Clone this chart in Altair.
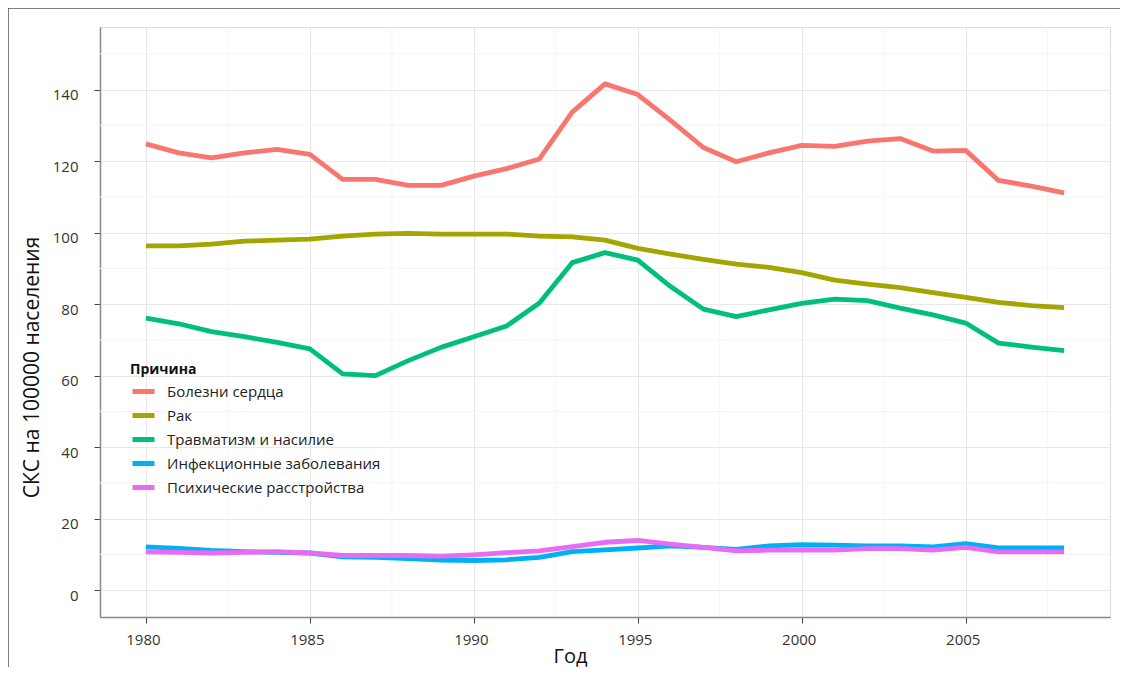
import altair as alt
import pandas as pd

years = list(range(1980, 2009))
causes = ["Болезни сердца", "Рак", "Травматизм и насилие",
          "Инфекционные заболевания", "Психические расстройства"]
colors = ["#F8766D", "#A3A500", "#00BF7D", "#00B0F6", "#E76BF3"]

heart = [124.8, 122.3, 120.9, 122.3, 123.3, 121.9, 114.9, 114.9, 113.2, 113.2,
         115.8, 117.9, 120.6, 133.7, 141.6, 138.6, 131.4, 123.8, 119.8, 122.3,
         124.4, 124.1, 125.6, 126.3, 122.8, 123.0, 114.6, 113.0, 111.1]
cancer = [96.3, 96.3, 96.8, 97.6, 97.9, 98.2, 99.0, 99.6, 99.8, 99.6,
          99.6, 99.6, 99.0, 98.8, 97.9, 95.6, 94.0, 92.5, 91.2, 90.3,
          88.8, 86.7, 85.6, 84.6, 83.2, 81.9, 80.5, 79.6, 79.0]
injury = [76.1, 74.5, 72.3, 70.9, 69.3, 67.5, 60.5, 60.0, 64.2, 67.9,
          70.9, 73.9, 80.3, 91.6, 94.4, 92.3, 84.9, 78.6, 76.5, 78.4,
          80.2, 81.4, 81.0, 78.9, 77.0, 74.7, 69.1, 68.0, 67.0]
infect = [12.1, 11.7, 11.1, 10.8, 10.6, 10.4, 9.3, 9.2, 8.8, 8.4,
          8.3, 8.5, 9.2, 10.8, 11.3, 11.8, 12.4, 12.0, 11.4, 12.4,
          12.7, 12.6, 12.4, 12.4, 12.1, 13.0, 11.8, 11.8, 11.8]
mental = [10.7, 10.6, 10.4, 10.6, 10.8, 10.4, 9.7, 9.7, 9.7, 9.5,
          9.9, 10.5, 11.0, 12.2, 13.4, 13.9, 12.9, 12.0, 11.0, 11.2,
          11.2, 11.2, 11.6, 11.6, 11.2, 12.0, 10.7, 10.7, 10.7]

x_major = [1980, 1985, 1990, 1995, 2000, 2005]
x_minor = [1982.5, 1987.5, 1992.5, 1997.5, 2002.5, 2007.5]
y_major = [0, 20, 40, 60, 80, 100, 120, 140]
y_minor = [10, 30, 50, 70, 90, 110, 130, 150]

series = [heart, cancer, injury, infect, mental]
rows = []
for i, (cause, vals) in enumerate(zip(causes, series)):
    for yr, v in zip(years, vals):
        rows.append({"Год": yr, "value": v, "Причина": cause, "ord": i})
df = pd.DataFrame(rows)

W, H = 1010, 590
xscale = alt.Scale(domain=[1978.6, 2009.4], nice=False, zero=False)
yscale = alt.Scale(domain=[-7.5, 157.5], nice=False, zero=False)
FONT = "Open Sans"

x_axis = alt.Axis(values=x_major, format="d", title="Год",
                  titleX=470, titleY=49, titleAnchor="start",
                  titleAlign="center", titleBaseline="bottom",
                  titleFontSize=20, titleFontWeight="normal",
                  titleColor="#111", labelFontSize=15, labelOffset=-3,
                  labelColor="#333", labelPadding=9, tickSize=6,
                  tickColor="#444", domainColor="#888",
                  domainWidth=1.5, gridColor="#E8E8E8",
                  gridWidth=1.2, labelFont=FONT, titleFont=FONT)
y_axis = alt.Axis(values=y_major, title="СКС на 100000 населения",
                  titleX=-68, titleY=340, titleAngle=-90,
                  titleAlign="center", titleBaseline="middle",
                  titleFontSize=21, titleFontWeight="normal",
                  titleColor="#111", labelFontSize=15, labelOffset=5,
                  labelColor="#333", labelPadding=16, tickSize=6,
                  tickColor="#444", domainColor="#888",
                  domainWidth=1.5, gridColor="#E8E8E8",
                  gridWidth=1.2, labelFont=FONT, titleFont=FONT)

xminor = alt.Chart(pd.DataFrame({"Год": x_minor})).mark_rule(
    color="#F4F4F4", strokeWidth=1).encode(
    x=alt.X("Год:Q", scale=xscale, axis=x_axis))
yminor = alt.Chart(pd.DataFrame({"value": y_minor})).mark_rule(
    color="#F4F4F4", strokeWidth=1).encode(
    y=alt.Y("value:Q", scale=yscale, axis=y_axis))

lines = alt.Chart(df).mark_line(strokeWidth=4.8, strokeCap="butt",
                                strokeJoin="round").encode(
    x=alt.X("Год:Q", scale=xscale, axis=x_axis),
    y=alt.Y("value:Q", scale=yscale, axis=y_axis),
    color=alt.Color("Причина:N",
                    scale=alt.Scale(domain=causes, range=colors),
                    legend=alt.Legend(orient="none", legendX=30, legendY=336,
                                      title="Причина", titleFontSize=14,
                                      titleFontWeight="bold", titleFont=FONT,
                                      titleColor="#111", labelFont=FONT,
                                      labelFontSize=15, labelColor="#222",
                                      labelLimit=400,
                                      symbolType="stroke",
                                      symbolStrokeWidth=5, symbolSize=484,
                                      labelOffset=10, rowPadding=0,
                                      titlePadding=1)),
    order=alt.Order("ord:Q"),
    detail="Причина:N",
)

frame_top = alt.Chart(pd.DataFrame({"a": [0]})).mark_rule(
    color="#555", strokeWidth=1.5).encode(
    x=alt.value(-92), x2=alt.value(1030), y=alt.value(-19))
frame_left = alt.Chart(pd.DataFrame({"a": [0]})).mark_rule(
    color="#555", strokeWidth=1.5).encode(
    x=alt.value(-92), y=alt.value(-19), y2=alt.value(660))

chart = alt.layer(xminor, yminor, lines, frame_top, frame_left).properties(
    width=W, height=H,
    autosize=alt.AutoSizeParams(type="none"),
    padding={"left": 92, "top": 19, "right": 10, "bottom": 50},
).configure_view(stroke="#999", strokeWidth=1.5).configure(background="white")

chart.save("out.html", embed_options={"renderer": "svg", "actions": False})
